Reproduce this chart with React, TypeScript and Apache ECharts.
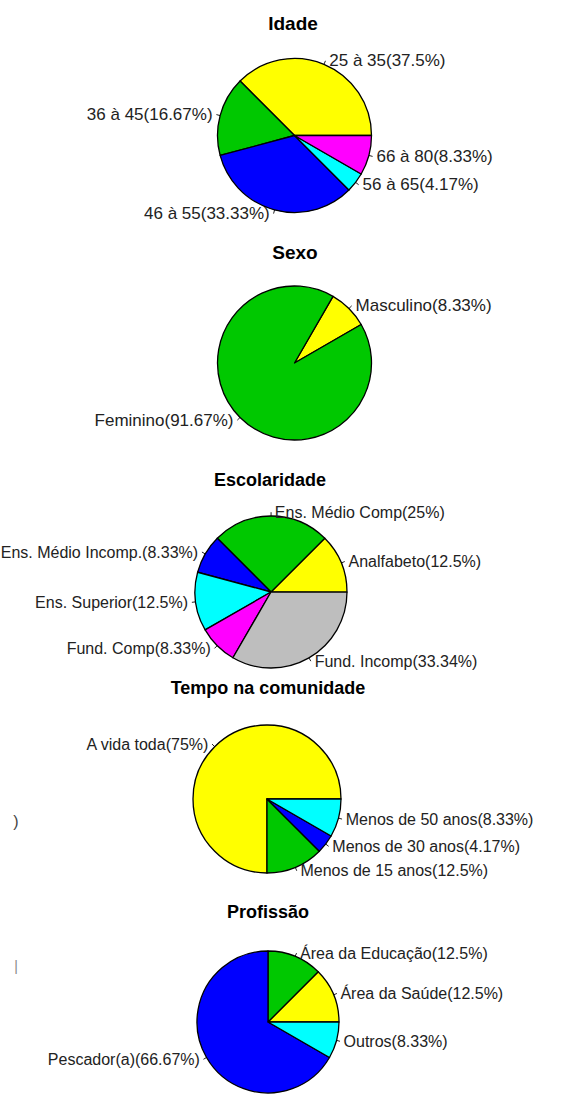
import React, { useEffect, useRef } from "react";
import * as echarts from "echarts";

// ---- data ----
const idadeNames = ["25 à 35", "36 à 45", "46 à 55", "56 à 65", "66 à 80"];
const idadeValues = [37.5, 16.67, 33.33, 4.17, 8.33];

const sexoNames = ["Masculino", "Feminino"];
const sexoValues = [8.33, 91.67];

const escolaridadeNames = [
  "Analfabeto",
  "Ens. Médio Comp",
  "Ens. Médio Incomp.",
  "Ens. Superior",
  "Fund. Comp",
  "Fund. Incomp",
];
const escolaridadeValues = [12.5, 25, 8.33, 12.5, 8.33, 33.34];

const tempoNames = ["A vida toda", "Menos de 15 anos", "Menos de 30 anos", "Menos de 50 anos"];
const tempoValues = [75, 12.5, 4.17, 8.33];

const profissaoNames = ["Área da Saúde", "Área da Educação", "Pescador(a)", "Outros"];
const profissaoValues = [12.5, 12.5, 66.67, 8.33];

const titles = ["Idade", "Sexo", "Escolaridade", "Tempo na comunidade", "Profissão"];

// ---- styles ----
const YELLOW = "#FFFF00";
const GREEN = "#00C800";
const BLUE = "#0000FF";
const CYAN = "#00FFFF";
const MAGENTA = "#FF00FF";
const GRAY = "#BEBEBE";

const FONT = "Arial, 'Liberation Sans', Helvetica, sans-serif";

function makePie(
  names: string[],
  values: number[],
  colors: string[],
  center: [number, number],
  r: number,
  startAngle: number,
  fontSize: number
) {
  return {
    type: "pie",
    center,
    radius: r,
    startAngle,
    clockwise: false,
    avoidLabelOverlap: false,
    silent: true,
    emphasis: { disabled: true },
    itemStyle: { borderColor: "#000", borderWidth: 1.3 },
    label: {
      show: true,
      position: "outside",
      formatter: "{b}({c}%)",
      color: "#222",
      fontFamily: FONT,
      fontSize,
      distanceToLabelLine: r * 0.05,
    },
    labelLine: {
      show: true,
      length: r * 0.05,
      length2: 0,
      lineStyle: { color: "#222", width: 1 },
    },
    data: names.map((n, i) => ({
      name: n,
      value: values[i],
      itemStyle: { color: colors[i] },
    })),
  };
}

export default function App() {
  const ref = useRef<HTMLDivElement>(null);

  useEffect(() => {
    if (!ref.current) return;
    const chart = echarts.init(ref.current, null, { renderer: "svg" });

    const titleSpecs: { x: number; y: number; size: number }[] = [
      { x: 293, y: 23, size: 19 },
      { x: 295, y: 252, size: 19 },
      { x: 270, y: 480, size: 18 },
      { x: 268, y: 688, size: 18 },
      { x: 268, y: 912, size: 18 },
    ];

    const option: any = {
      animation: false,
      backgroundColor: "#fff",
      graphic: [
        ...titles.map((t, i) => ({
          type: "text",
          x: titleSpecs[i].x,
          y: titleSpecs[i].y,
          silent: true,
          style: {
            text: t,
            fill: "#000",
            font: `bold ${titleSpecs[i].size}px ${FONT}`,
            textAlign: "center",
            textVerticalAlign: "middle",
          },
        })),
        {
          type: "text",
          x: 16,
          y: 821,
          silent: true,
          style: { text: ")", fill: "#444", font: `16px ${FONT}`, textAlign: "center", textVerticalAlign: "middle" },
        },
        {
          type: "text",
          x: 16,
          y: 966,
          silent: true,
          style: { text: "|", fill: "#888", font: `14px ${FONT}`, textAlign: "center", textVerticalAlign: "middle" },
        },
      ],
      series: [
        makePie(idadeNames, idadeValues, [YELLOW, GREEN, BLUE, CYAN, MAGENTA], [294.5, 135.5], 77, 0, 17),
        makePie(sexoNames, sexoValues, [YELLOW, GREEN], [294.5, 363], 77, 30, 17),
        makePie(
          escolaridadeNames,
          escolaridadeValues,
          [YELLOW, GREEN, BLUE, CYAN, MAGENTA, GRAY],
          [271, 592],
          76,
          -0.05,
          16
        ),
        makePie(tempoNames, tempoValues, [YELLOW, GREEN, BLUE, CYAN], [267, 799], 74, 0, 16),
        makePie(profissaoNames, profissaoValues, [YELLOW, GREEN, BLUE, CYAN], [268, 1022], 71, 0, 16),
      ],
    };

    chart.setOption(option);
    return () => chart.dispose();
  }, []);

  return (
    <div
      ref={ref}
      style={{ position: "absolute", left: 0, top: 0, width: 569, height: 1095, background: "#fff" }}
    />
  );
}
